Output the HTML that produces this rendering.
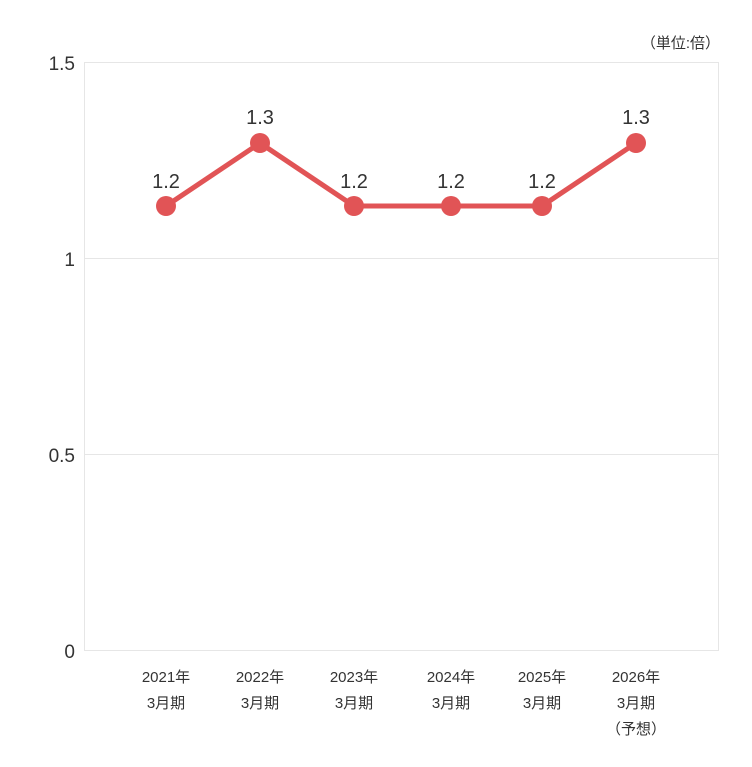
<!DOCTYPE html>
<html><head><meta charset="utf-8"><style>
html,body{margin:0;padding:0;background:#fff;}
svg{display:block;font-family:"Liberation Sans","Noto Sans CJK JP",sans-serif;}
</style></head><body>
<svg width="752" height="767" viewBox="0 0 752 767" xmlns="http://www.w3.org/2000/svg">
<rect x="84.5" y="62.5" width="634" height="588" fill="none" stroke="#e6e6e6" stroke-width="1"/>
<line x1="84" y1="258.5" x2="719" y2="258.5" stroke="#e6e6e6"/>
<line x1="84" y1="454.5" x2="719" y2="454.5" stroke="#e6e6e6"/>
<g fill="#333" font-size="19" text-anchor="end">
<text x="75" y="70">1.5</text>
<text x="75" y="266">1</text>
<text x="75" y="462">0.5</text>
<text x="75" y="658">0</text>
</g>
<text x="720" y="48" font-size="15" fill="#333" text-anchor="end">（単位:倍）</text>
<polyline points="166,206 260,143 354,206 451,206 542,206 636,143" fill="none" stroke="#e15456" stroke-width="5" stroke-linejoin="round"/>
<g fill="#e15456">
<circle cx="166" cy="206" r="10"/><circle cx="260" cy="143" r="10"/><circle cx="354" cy="206" r="10"/>
<circle cx="451" cy="206" r="10"/><circle cx="542" cy="206" r="10"/><circle cx="636" cy="143" r="10"/>
</g>
<g fill="#333" font-size="20" text-anchor="middle">
<text x="166" y="188">1.2</text><text x="260" y="124">1.3</text><text x="354" y="188">1.2</text>
<text x="451" y="188">1.2</text><text x="542" y="188">1.2</text><text x="636" y="124">1.3</text>
</g>
<g fill="#333" font-size="15" text-anchor="middle">
<text x="166" y="682">2021年</text><text x="166" y="708">3月期</text>
<text x="260" y="682">2022年</text><text x="260" y="708">3月期</text>
<text x="354" y="682">2023年</text><text x="354" y="708">3月期</text>
<text x="451" y="682">2024年</text><text x="451" y="708">3月期</text>
<text x="542" y="682">2025年</text><text x="542" y="708">3月期</text>
<text x="636" y="682">2026年</text><text x="636" y="708">3月期</text>
<text x="636" y="734">（予想）</text>
</g>
</svg>
</body></html>
